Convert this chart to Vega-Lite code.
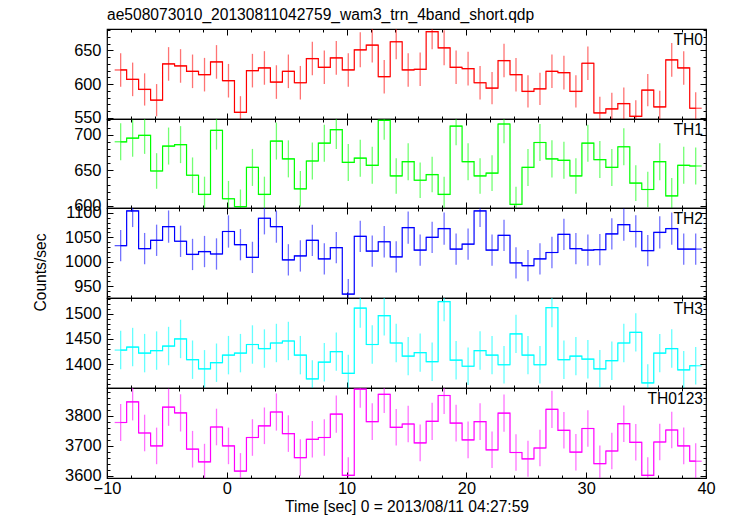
{
"$schema": "https://vega.github.io/schema/vega-lite/v6.json",
"padding": {"left": 32, "top": 7, "right": 5, "bottom": 5},
"spacing": 0,
"bounds": "flush",
"config": {
 "font": "Liberation Sans",
 "view": {"stroke": "black", "strokeWidth": 1.2},
 "axis": {"domain": false, "grid": false, "tickColor": "black", "tickWidth": 1, "labelColor": "black", "labelFont": "Liberation Sans", "labelFontSize": 16.4, "titleFont": "Liberation Sans", "titleFontSize": 15.6, "titleFontWeight": "normal", "titleColor": "black", "labelOverlap": false, "labelFlush": false, "labelBound": false, "format": "d"}
},
"datasets": {
 "th0": [
  {"t":-8.86,"v":621,"lo":596,"hi":646},{"t":-7.86,"v":607,"lo":582,"hi":632},{"t":-6.86,"v":592,"lo":568,"hi":616},{"t":-5.86,"v":576,"lo":552,"hi":600},{"t":-4.86,"v":630,"lo":605,"hi":655},{"t":-3.86,"v":627,"lo":602,"hi":652},{"t":-2.86,"v":619,"lo":594,"hi":644},{"t":-1.86,"v":614,"lo":589,"hi":639},{"t":-0.86,"v":633,"lo":608,"hi":658},{"t":0.14,"v":605,"lo":580,"hi":630},
  {"t":1.14,"v":558,"lo":534,"hi":582},{"t":2.14,"v":620,"lo":595,"hi":645},{"t":3.14,"v":624,"lo":599,"hi":649},{"t":4.14,"v":603,"lo":578,"hi":628},{"t":5.14,"v":619,"lo":594,"hi":644},{"t":6.14,"v":602,"lo":577,"hi":627},{"t":7.14,"v":638,"lo":613,"hi":663},{"t":8.14,"v":625,"lo":600,"hi":650},{"t":9.14,"v":639,"lo":614,"hi":664},{"t":10.14,"v":621,"lo":596,"hi":646},
  {"t":11.14,"v":651,"lo":625,"hi":677},{"t":12.14,"v":658,"lo":632,"hi":684},{"t":13.14,"v":611,"lo":586,"hi":636},{"t":14.14,"v":663,"lo":637,"hi":689},{"t":15.14,"v":621,"lo":596,"hi":646},{"t":16.14,"v":622,"lo":597,"hi":647},{"t":17.14,"v":678,"lo":652,"hi":704},{"t":18.14,"v":654,"lo":628,"hi":680},{"t":19.14,"v":625,"lo":600,"hi":650},{"t":20.14,"v":623,"lo":598,"hi":648},
  {"t":21.14,"v":602,"lo":577,"hi":627},{"t":22.14,"v":594,"lo":570,"hi":618},{"t":23.14,"v":635,"lo":610,"hi":660},{"t":24.14,"v":614,"lo":589,"hi":639},{"t":25.14,"v":589,"lo":565,"hi":613},{"t":26.14,"v":593,"lo":569,"hi":617},{"t":27.14,"v":619,"lo":594,"hi":644},{"t":28.14,"v":617,"lo":592,"hi":642},{"t":29.14,"v":589,"lo":565,"hi":613},{"t":30.14,"v":631,"lo":606,"hi":656},
  {"t":31.14,"v":557,"lo":533,"hi":581},{"t":32.14,"v":563,"lo":539,"hi":587},{"t":33.14,"v":571,"lo":547,"hi":595},{"t":34.14,"v":552,"lo":528,"hi":576},{"t":35.14,"v":591,"lo":567,"hi":615},{"t":36.14,"v":566,"lo":542,"hi":590},{"t":37.14,"v":636,"lo":611,"hi":661},{"t":38.14,"v":624,"lo":599,"hi":649},{"t":39.14,"v":564,"lo":540,"hi":588}
 ],
 "th1": [
  {"t":-8.86,"v":690,"lo":664,"hi":716},{"t":-7.86,"v":695,"lo":669,"hi":721},{"t":-6.86,"v":699,"lo":673,"hi":725},{"t":-5.86,"v":649,"lo":624,"hi":674},{"t":-4.86,"v":684,"lo":658,"hi":710},{"t":-3.86,"v":686,"lo":660,"hi":712},{"t":-2.86,"v":643,"lo":618,"hi":668},{"t":-1.86,"v":616,"lo":591,"hi":641},{"t":-0.86,"v":706,"lo":679,"hi":733},{"t":0.14,"v":610,"lo":585,"hi":635},
  {"t":1.14,"v":599,"lo":575,"hi":623},{"t":2.14,"v":654,"lo":628,"hi":680},{"t":3.14,"v":616,"lo":591,"hi":641},{"t":4.14,"v":691,"lo":665,"hi":717},{"t":5.14,"v":666,"lo":640,"hi":692},{"t":6.14,"v":624,"lo":599,"hi":649},{"t":7.14,"v":663,"lo":637,"hi":689},{"t":8.14,"v":688,"lo":662,"hi":714},{"t":9.14,"v":707,"lo":680,"hi":734},{"t":10.14,"v":661,"lo":635,"hi":687},
  {"t":11.14,"v":667,"lo":641,"hi":693},{"t":12.14,"v":657,"lo":631,"hi":683},{"t":13.14,"v":720,"lo":693,"hi":747},{"t":14.14,"v":642,"lo":617,"hi":667},{"t":15.14,"v":662,"lo":636,"hi":688},{"t":16.14,"v":636,"lo":611,"hi":661},{"t":17.14,"v":644,"lo":619,"hi":669},{"t":18.14,"v":616,"lo":591,"hi":641},{"t":19.14,"v":712,"lo":685,"hi":739},{"t":20.14,"v":662,"lo":636,"hi":688},
  {"t":21.14,"v":642,"lo":617,"hi":667},{"t":22.14,"v":646,"lo":621,"hi":671},{"t":23.14,"v":715,"lo":688,"hi":742},{"t":24.14,"v":602,"lo":578,"hi":627},{"t":25.14,"v":654,"lo":628,"hi":680},{"t":26.14,"v":689,"lo":663,"hi":715},{"t":27.14,"v":666,"lo":640,"hi":692},{"t":28.14,"v":664,"lo":638,"hi":690},{"t":29.14,"v":642,"lo":617,"hi":667},{"t":30.14,"v":688,"lo":662,"hi":714},
  {"t":31.14,"v":665,"lo":639,"hi":691},{"t":32.14,"v":654,"lo":628,"hi":680},{"t":33.14,"v":683,"lo":657,"hi":709},{"t":34.14,"v":632,"lo":607,"hi":657},{"t":35.14,"v":623,"lo":598,"hi":648},{"t":36.14,"v":662,"lo":636,"hi":688},{"t":37.14,"v":614,"lo":589,"hi":639},{"t":38.14,"v":657,"lo":631,"hi":683},{"t":39.14,"v":656,"lo":630,"hi":682}
 ],
 "th2": [
  {"t":-8.86,"v":1033,"lo":1001,"hi":1065},{"t":-7.86,"v":1104,"lo":1071,"hi":1137},{"t":-6.86,"v":1027,"lo":995,"hi":1059},{"t":-5.86,"v":1044,"lo":1012,"hi":1076},{"t":-4.86,"v":1072,"lo":1039,"hi":1105},{"t":-3.86,"v":1042,"lo":1010,"hi":1074},{"t":-2.86,"v":1015,"lo":983,"hi":1047},{"t":-1.86,"v":1021,"lo":989,"hi":1053},{"t":-0.86,"v":1016,"lo":984,"hi":1048},{"t":0.14,"v":1062,"lo":1029,"hi":1095},
  {"t":1.14,"v":1035,"lo":1003,"hi":1067},{"t":2.14,"v":1009,"lo":977,"hi":1041},{"t":3.14,"v":1089,"lo":1056,"hi":1122},{"t":4.14,"v":1072,"lo":1039,"hi":1105},{"t":5.14,"v":1004,"lo":972,"hi":1036},{"t":6.14,"v":1012,"lo":980,"hi":1044},{"t":7.14,"v":1044,"lo":1012,"hi":1076},{"t":8.14,"v":1006,"lo":974,"hi":1038},{"t":9.14,"v":1029,"lo":997,"hi":1061},{"t":10.14,"v":934,"lo":903,"hi":965},
  {"t":11.14,"v":1052,"lo":1020,"hi":1084},{"t":12.14,"v":1022,"lo":990,"hi":1054},{"t":13.14,"v":1041,"lo":1009,"hi":1073},{"t":14.14,"v":1010,"lo":978,"hi":1042},{"t":15.14,"v":1070,"lo":1037,"hi":1103},{"t":16.14,"v":1024,"lo":992,"hi":1056},{"t":17.14,"v":1050,"lo":1018,"hi":1082},{"t":18.14,"v":1068,"lo":1035,"hi":1101},{"t":19.14,"v":1026,"lo":994,"hi":1058},{"t":20.14,"v":1036,"lo":1004,"hi":1068},
  {"t":21.14,"v":1104,"lo":1071,"hi":1137},{"t":22.14,"v":1024,"lo":992,"hi":1056},{"t":23.14,"v":1054,"lo":1022,"hi":1086},{"t":24.14,"v":998,"lo":966,"hi":1030},{"t":25.14,"v":992,"lo":960,"hi":1024},{"t":26.14,"v":1006,"lo":974,"hi":1038},{"t":27.14,"v":1019,"lo":987,"hi":1051},{"t":28.14,"v":1056,"lo":1024,"hi":1088},{"t":29.14,"v":1027,"lo":995,"hi":1059},{"t":30.14,"v":1024,"lo":992,"hi":1056},
  {"t":31.14,"v":1025,"lo":993,"hi":1057},{"t":32.14,"v":1057,"lo":1025,"hi":1089},{"t":33.14,"v":1076,"lo":1043,"hi":1109},{"t":34.14,"v":1062,"lo":1029,"hi":1095},{"t":35.14,"v":1023,"lo":991,"hi":1055},{"t":36.14,"v":1060,"lo":1027,"hi":1093},{"t":37.14,"v":1068,"lo":1035,"hi":1101},{"t":38.14,"v":1026,"lo":994,"hi":1058},{"t":39.14,"v":1026,"lo":994,"hi":1058}
 ],
 "th3": [
  {"t":-8.86,"v":1428,"lo":1390,"hi":1466},{"t":-7.86,"v":1434,"lo":1396,"hi":1472},{"t":-6.86,"v":1422,"lo":1384,"hi":1460},{"t":-5.86,"v":1427,"lo":1389,"hi":1465},{"t":-4.86,"v":1436,"lo":1398,"hi":1474},{"t":-3.86,"v":1450,"lo":1412,"hi":1488},{"t":-2.86,"v":1409,"lo":1371,"hi":1447},{"t":-1.86,"v":1391,"lo":1354,"hi":1428},{"t":-0.86,"v":1403,"lo":1365,"hi":1441},{"t":0.14,"v":1418,"lo":1380,"hi":1456},
  {"t":1.14,"v":1422,"lo":1384,"hi":1460},{"t":2.14,"v":1439,"lo":1401,"hi":1477},{"t":3.14,"v":1431,"lo":1393,"hi":1469},{"t":4.14,"v":1442,"lo":1404,"hi":1480},{"t":5.14,"v":1446,"lo":1408,"hi":1484},{"t":6.14,"v":1418,"lo":1380,"hi":1456},{"t":7.14,"v":1371,"lo":1334,"hi":1408},{"t":8.14,"v":1404,"lo":1366,"hi":1442},{"t":9.14,"v":1425,"lo":1387,"hi":1463},{"t":10.14,"v":1382,"lo":1345,"hi":1419},
  {"t":11.14,"v":1511,"lo":1472,"hi":1550},{"t":12.14,"v":1439,"lo":1401,"hi":1477},{"t":13.14,"v":1496,"lo":1457,"hi":1535},{"t":14.14,"v":1442,"lo":1404,"hi":1480},{"t":15.14,"v":1416,"lo":1378,"hi":1454},{"t":16.14,"v":1423,"lo":1385,"hi":1461},{"t":17.14,"v":1405,"lo":1367,"hi":1443},{"t":18.14,"v":1524,"lo":1485,"hi":1563},{"t":19.14,"v":1408,"lo":1370,"hi":1446},{"t":20.14,"v":1396,"lo":1359,"hi":1433},
  {"t":21.14,"v":1427,"lo":1389,"hi":1465},{"t":22.14,"v":1418,"lo":1380,"hi":1456},{"t":23.14,"v":1399,"lo":1362,"hi":1436},{"t":24.14,"v":1460,"lo":1422,"hi":1498},{"t":25.14,"v":1418,"lo":1380,"hi":1456},{"t":26.14,"v":1399,"lo":1362,"hi":1436},{"t":27.14,"v":1512,"lo":1473,"hi":1551},{"t":28.14,"v":1409,"lo":1371,"hi":1447},{"t":29.14,"v":1416,"lo":1378,"hi":1454},{"t":30.14,"v":1410,"lo":1372,"hi":1448},
  {"t":31.14,"v":1391,"lo":1354,"hi":1428},{"t":32.14,"v":1407,"lo":1369,"hi":1445},{"t":33.14,"v":1442,"lo":1404,"hi":1480},{"t":34.14,"v":1463,"lo":1425,"hi":1501},{"t":35.14,"v":1363,"lo":1326,"hi":1400},{"t":36.14,"v":1422,"lo":1384,"hi":1460},{"t":37.14,"v":1431,"lo":1393,"hi":1469},{"t":38.14,"v":1389,"lo":1352,"hi":1426},{"t":39.14,"v":1397,"lo":1360,"hi":1434}
 ],
 "th0123": [
  {"t":-8.86,"v":3778,"lo":3716,"hi":3840},{"t":-7.86,"v":3847,"lo":3785,"hi":3909},{"t":-6.86,"v":3743,"lo":3682,"hi":3804},{"t":-5.86,"v":3700,"lo":3639,"hi":3761},{"t":-4.86,"v":3829,"lo":3767,"hi":3891},{"t":-3.86,"v":3810,"lo":3748,"hi":3872},{"t":-2.86,"v":3689,"lo":3628,"hi":3750},{"t":-1.86,"v":3647,"lo":3587,"hi":3707},{"t":-0.86,"v":3763,"lo":3702,"hi":3824},{"t":0.14,"v":3700,"lo":3639,"hi":3761},
  {"t":1.14,"v":3616,"lo":3556,"hi":3676},{"t":2.14,"v":3728,"lo":3667,"hi":3789},{"t":3.14,"v":3767,"lo":3706,"hi":3828},{"t":4.14,"v":3813,"lo":3751,"hi":3875},{"t":5.14,"v":3741,"lo":3680,"hi":3802},{"t":6.14,"v":3661,"lo":3600,"hi":3722},{"t":7.14,"v":3722,"lo":3661,"hi":3783},{"t":8.14,"v":3728,"lo":3667,"hi":3789},{"t":9.14,"v":3806,"lo":3744,"hi":3868},{"t":10.14,"v":3602,"lo":3542,"hi":3662},
  {"t":11.14,"v":3889,"lo":3827,"hi":3951},{"t":12.14,"v":3781,"lo":3720,"hi":3842},{"t":13.14,"v":3872,"lo":3810,"hi":3934},{"t":14.14,"v":3762,"lo":3701,"hi":3823},{"t":15.14,"v":3773,"lo":3712,"hi":3834},{"t":16.14,"v":3710,"lo":3649,"hi":3771},{"t":17.14,"v":3782,"lo":3720,"hi":3844},{"t":18.14,"v":3868,"lo":3806,"hi":3930},{"t":19.14,"v":3776,"lo":3715,"hi":3837},{"t":20.14,"v":3720,"lo":3659,"hi":3781},
  {"t":21.14,"v":3781,"lo":3720,"hi":3842},{"t":22.14,"v":3687,"lo":3626,"hi":3748},{"t":23.14,"v":3809,"lo":3747,"hi":3871},{"t":24.14,"v":3678,"lo":3617,"hi":3739},{"t":25.14,"v":3657,"lo":3597,"hi":3717},{"t":26.14,"v":3693,"lo":3632,"hi":3754},{"t":27.14,"v":3822,"lo":3760,"hi":3884},{"t":28.14,"v":3752,"lo":3691,"hi":3813},{"t":29.14,"v":3679,"lo":3618,"hi":3740},{"t":30.14,"v":3758,"lo":3697,"hi":3819},
  {"t":31.14,"v":3641,"lo":3581,"hi":3701},{"t":32.14,"v":3683,"lo":3622,"hi":3744},{"t":33.14,"v":3774,"lo":3713,"hi":3835},{"t":34.14,"v":3712,"lo":3651,"hi":3773},{"t":35.14,"v":3602,"lo":3542,"hi":3662},{"t":36.14,"v":3713,"lo":3652,"hi":3774},{"t":37.14,"v":3753,"lo":3692,"hi":3814},{"t":38.14,"v":3700,"lo":3639,"hi":3761},{"t":39.14,"v":3649,"lo":3589,"hi":3709}
 ]
},
"vconcat": [
 {
  "width": 599, "height": 90,
  "title": {"text": "ae508073010_20130811042759_wam3_trn_4band_short.qdp", "anchor": "start", "frame": "group", "fontSize": 15.6, "font": "Liberation Sans", "fontWeight": "normal", "color": "black", "offset": 5},
  "data": {"name": "th0"},
  "layer": [
   {"mark": {"type": "rule", "color": "#ff0000", "strokeWidth": 1.3, "opacity": 0.55, "clip": true},
    "encoding": {
     "x": {"field": "t", "type": "quantitative", "scale": {"domain": [-10, 40], "nice": false, "zero": false}, "axis": {"orient": "bottom", "values": [-8,-6,-4,-2,2,4,6,8,12,14,16,18,22,24,26,28,32,34,36,38], "tickSize": -3, "labels": false, "title": null}},
     "y": {"field": "lo", "type": "quantitative", "scale": {"domain": [548, 682], "nice": false, "zero": false}, "axis": {"orient": "left", "values": [560,570,580,590,610,620,630,640,660,670,680], "tickSize": -3, "labels": false, "title": null}},
     "y2": {"field": "hi"}}},
   {"mark": {"type": "line", "interpolate": "step", "color": "#ff0000", "strokeWidth": 1.2, "clip": true},
    "encoding": {
     "x": {"field": "t", "type": "quantitative", "scale": {"domain": [-10, 40], "nice": false, "zero": false}, "axis": {"orient": "bottom", "values": [-10,0,10,20,30,40], "tickSize": -6, "labels": false, "title": null}},
     "y": {"field": "v", "type": "quantitative", "scale": {"domain": [548, 682], "nice": false, "zero": false}, "axis": {"orient": "left", "values": [550,600,650], "tickSize": -6, "labelPadding": 12, "title": null, "minExtent": 40, "maxExtent": 40}}}},
   {"mark": {"type": "tick", "orient": "horizontal", "size": 12, "thickness": 1.2, "color": "#ff0000", "clip": true},
    "encoding": {
     "x": {"field": "t", "type": "quantitative", "scale": {"domain": [-10, 40], "nice": false, "zero": false}, "axis": {"orient": "top", "values": [-10,0,10,20,30,40], "tickSize": -6, "labels": false, "title": null}},
     "y": {"field": "v", "type": "quantitative", "scale": {"domain": [548, 682], "nice": false, "zero": false}, "axis": {"orient": "right", "values": [550,600,650], "tickSize": -6, "labels": false, "title": null}}}},
   {"data": {"values": [{"label": "TH0"}]},
    "mark": {"type": "text", "align": "right", "baseline": "alphabetic", "dx": -3, "dy": 16, "fontSize": 15.6, "font": "Liberation Sans", "color": "black"},
    "encoding": {
     "text": {"field": "label"},
     "x": {"datum": 40, "type": "quantitative", "scale": {"domain": [-10, 40], "nice": false, "zero": false}, "axis": {"orient": "top", "values": [-8,-6,-4,-2,2,4,6,8,12,14,16,18,22,24,26,28,32,34,36,38], "tickSize": -3, "labels": false, "title": null}},
     "y": {"datum": 682, "type": "quantitative", "scale": {"domain": [548, 682], "nice": false, "zero": false}, "axis": {"orient": "right", "values": [560,570,580,590,610,620,630,640,660,670,680], "tickSize": -3, "labels": false, "title": null}}}}
  ],
  "resolve": {"axis": {"x": "independent", "y": "independent"}}
 },
 {
  "width": 599, "height": 89,
  "data": {"name": "th1"},
  "layer": [
   {"mark": {"type": "rule", "color": "#00ff00", "strokeWidth": 1.3, "opacity": 0.55, "clip": true},
    "encoding": {
     "x": {"field": "t", "type": "quantitative", "scale": {"domain": [-10, 40], "nice": false, "zero": false}, "axis": {"orient": "bottom", "values": [-8,-6,-4,-2,2,4,6,8,12,14,16,18,22,24,26,28,32,34,36,38], "tickSize": -3, "labels": false, "title": null}},
     "y": {"field": "lo", "type": "quantitative", "scale": {"domain": [597, 722], "nice": false, "zero": false}, "axis": {"orient": "left", "values": [610,620,630,640,660,670,680,690,710,720], "tickSize": -3, "labels": false, "title": null}},
     "y2": {"field": "hi"}}},
   {"mark": {"type": "line", "interpolate": "step", "color": "#00ff00", "strokeWidth": 1.2, "clip": true},
    "encoding": {
     "x": {"field": "t", "type": "quantitative", "scale": {"domain": [-10, 40], "nice": false, "zero": false}, "axis": {"orient": "bottom", "values": [-10,0,10,20,30,40], "tickSize": -6, "labels": false, "title": null}},
     "y": {"field": "v", "type": "quantitative", "scale": {"domain": [597, 722], "nice": false, "zero": false}, "axis": {"orient": "left", "values": [600,650,700], "tickSize": -6, "labelPadding": 12, "title": null, "minExtent": 40, "maxExtent": 40}}}},
   {"mark": {"type": "tick", "orient": "horizontal", "size": 12, "thickness": 1.2, "color": "#00ff00", "clip": true},
    "encoding": {
     "x": {"field": "t", "type": "quantitative", "scale": {"domain": [-10, 40], "nice": false, "zero": false}, "axis": {"orient": "top", "values": [-10,0,10,20,30,40], "tickSize": -6, "labels": false, "title": null}},
     "y": {"field": "v", "type": "quantitative", "scale": {"domain": [597, 722], "nice": false, "zero": false}, "axis": {"orient": "right", "values": [600,650,700], "tickSize": -6, "labels": false, "title": null}}}},
   {"data": {"values": [{"label": "TH1"}]},
    "mark": {"type": "text", "align": "right", "baseline": "alphabetic", "dx": -3, "dy": 16, "fontSize": 15.6, "font": "Liberation Sans", "color": "black"},
    "encoding": {
     "text": {"field": "label"},
     "x": {"datum": 40, "type": "quantitative", "scale": {"domain": [-10, 40], "nice": false, "zero": false}, "axis": {"orient": "top", "values": [-8,-6,-4,-2,2,4,6,8,12,14,16,18,22,24,26,28,32,34,36,38], "tickSize": -3, "labels": false, "title": null}},
     "y": {"datum": 722, "type": "quantitative", "scale": {"domain": [597, 722], "nice": false, "zero": false}, "axis": {"orient": "right", "values": [610,620,630,640,660,670,680,690,710,720], "tickSize": -3, "labels": false, "title": null}}}}
  ],
  "resolve": {"axis": {"x": "independent", "y": "independent"}}
 },
 {
  "width": 599, "height": 90,
  "data": {"name": "th2"},
  "layer": [
   {"mark": {"type": "rule", "color": "#0000ff", "strokeWidth": 1.3, "opacity": 0.55, "clip": true},
    "encoding": {
     "x": {"field": "t", "type": "quantitative", "scale": {"domain": [-10, 40], "nice": false, "zero": false}, "axis": {"orient": "bottom", "values": [-8,-6,-4,-2,2,4,6,8,12,14,16,18,22,24,26,28,32,34,36,38], "tickSize": -3, "labels": false, "title": null}},
     "y": {"field": "lo", "type": "quantitative", "scale": {"domain": [926, 1110], "nice": false, "zero": false}, "axis": {"orient": "left", "values": [930,940,960,970,980,990,1010,1020,1030,1040,1060,1070,1080,1090], "tickSize": -3, "labels": false, "title": null}},
     "y2": {"field": "hi"}}},
   {"mark": {"type": "line", "interpolate": "step", "color": "#0000ff", "strokeWidth": 1.2, "clip": true},
    "encoding": {
     "x": {"field": "t", "type": "quantitative", "scale": {"domain": [-10, 40], "nice": false, "zero": false}, "axis": {"orient": "bottom", "values": [-10,0,10,20,30,40], "tickSize": -6, "labels": false, "title": null}},
     "y": {"field": "v", "type": "quantitative", "scale": {"domain": [926, 1110], "nice": false, "zero": false}, "axis": {"orient": "left", "values": [950,1000,1050,1100], "tickSize": -6, "labelPadding": 12, "title": "Counts/sec", "titleX": -67, "titleY": 64, "titleAngle": -90, "titleBaseline": "middle", "titleAlign": "center", "minExtent": 40, "maxExtent": 40}}}},
   {"mark": {"type": "tick", "orient": "horizontal", "size": 12, "thickness": 1.2, "color": "#0000ff", "clip": true},
    "encoding": {
     "x": {"field": "t", "type": "quantitative", "scale": {"domain": [-10, 40], "nice": false, "zero": false}, "axis": {"orient": "top", "values": [-10,0,10,20,30,40], "tickSize": -6, "labels": false, "title": null}},
     "y": {"field": "v", "type": "quantitative", "scale": {"domain": [926, 1110], "nice": false, "zero": false}, "axis": {"orient": "right", "values": [950,1000,1050,1100], "tickSize": -6, "labels": false, "title": null}}}},
   {"data": {"values": [{"label": "TH2"}]},
    "mark": {"type": "text", "align": "right", "baseline": "alphabetic", "dx": -3, "dy": 16, "fontSize": 15.6, "font": "Liberation Sans", "color": "black"},
    "encoding": {
     "text": {"field": "label"},
     "x": {"datum": 40, "type": "quantitative", "scale": {"domain": [-10, 40], "nice": false, "zero": false}, "axis": {"orient": "top", "values": [-8,-6,-4,-2,2,4,6,8,12,14,16,18,22,24,26,28,32,34,36,38], "tickSize": -3, "labels": false, "title": null}},
     "y": {"datum": 1110, "type": "quantitative", "scale": {"domain": [926, 1110], "nice": false, "zero": false}, "axis": {"orient": "right", "values": [930,940,960,970,980,990,1010,1020,1030,1040,1060,1070,1080,1090], "tickSize": -3, "labels": false, "title": null}}}}
  ],
  "resolve": {"axis": {"x": "independent", "y": "independent"}}
 },
 {
  "width": 599, "height": 90,
  "data": {"name": "th3"},
  "layer": [
   {"mark": {"type": "rule", "color": "#00ffff", "strokeWidth": 1.3, "opacity": 0.6, "clip": true},
    "encoding": {
     "x": {"field": "t", "type": "quantitative", "scale": {"domain": [-10, 40], "nice": false, "zero": false}, "axis": {"orient": "bottom", "values": [-8,-6,-4,-2,2,4,6,8,12,14,16,18,22,24,26,28,32,34,36,38], "tickSize": -3, "labels": false, "title": null}},
     "y": {"field": "lo", "type": "quantitative", "scale": {"domain": [1353, 1531], "nice": false, "zero": false}, "axis": {"orient": "left", "values": [1360,1370,1380,1390,1410,1420,1430,1440,1460,1470,1480,1490,1510,1520,1530], "tickSize": -3, "labels": false, "title": null}},
     "y2": {"field": "hi"}}},
   {"mark": {"type": "line", "interpolate": "step", "color": "#00ffff", "strokeWidth": 1.2, "clip": true},
    "encoding": {
     "x": {"field": "t", "type": "quantitative", "scale": {"domain": [-10, 40], "nice": false, "zero": false}, "axis": {"orient": "bottom", "values": [-10,0,10,20,30,40], "tickSize": -6, "labels": false, "title": null}},
     "y": {"field": "v", "type": "quantitative", "scale": {"domain": [1353, 1531], "nice": false, "zero": false}, "axis": {"orient": "left", "values": [1400,1450,1500], "tickSize": -6, "labelPadding": 12, "title": null, "minExtent": 40, "maxExtent": 40}}}},
   {"mark": {"type": "tick", "orient": "horizontal", "size": 12, "thickness": 1.2, "color": "#00ffff", "clip": true},
    "encoding": {
     "x": {"field": "t", "type": "quantitative", "scale": {"domain": [-10, 40], "nice": false, "zero": false}, "axis": {"orient": "top", "values": [-10,0,10,20,30,40], "tickSize": -6, "labels": false, "title": null}},
     "y": {"field": "v", "type": "quantitative", "scale": {"domain": [1353, 1531], "nice": false, "zero": false}, "axis": {"orient": "right", "values": [1400,1450,1500], "tickSize": -6, "labels": false, "title": null}}}},
   {"data": {"values": [{"label": "TH3"}]},
    "mark": {"type": "text", "align": "right", "baseline": "alphabetic", "dx": -3, "dy": 16, "fontSize": 15.6, "font": "Liberation Sans", "color": "black"},
    "encoding": {
     "text": {"field": "label"},
     "x": {"datum": 40, "type": "quantitative", "scale": {"domain": [-10, 40], "nice": false, "zero": false}, "axis": {"orient": "top", "values": [-8,-6,-4,-2,2,4,6,8,12,14,16,18,22,24,26,28,32,34,36,38], "tickSize": -3, "labels": false, "title": null}},
     "y": {"datum": 1531, "type": "quantitative", "scale": {"domain": [1353, 1531], "nice": false, "zero": false}, "axis": {"orient": "right", "values": [1360,1370,1380,1390,1410,1420,1430,1440,1460,1470,1480,1490,1510,1520,1530], "tickSize": -3, "labels": false, "title": null}}}}
  ],
  "resolve": {"axis": {"x": "independent", "y": "independent"}}
 },
 {
  "width": 599, "height": 90,
  "data": {"name": "th0123"},
  "layer": [
   {"mark": {"type": "rule", "color": "#ff00ff", "strokeWidth": 1.3, "opacity": 0.55, "clip": true},
    "encoding": {
     "x": {"field": "t", "type": "quantitative", "scale": {"domain": [-10, 40], "nice": false, "zero": false}, "axis": {"orient": "bottom", "values": [-8,-6,-4,-2,2,4,6,8,12,14,16,18,22,24,26,28,32,34,36,38], "tickSize": -3, "labels": false, "title": null}},
     "y": {"field": "lo", "type": "quantitative", "scale": {"domain": [3593, 3893], "nice": false, "zero": false}, "axis": {"orient": "left", "values": [3620,3640,3660,3680,3720,3740,3760,3780,3820,3840,3860,3880], "tickSize": -3, "labels": false, "title": null}},
     "y2": {"field": "hi"}}},
   {"mark": {"type": "line", "interpolate": "step", "color": "#ff00ff", "strokeWidth": 1.2, "clip": true},
    "encoding": {
     "x": {"field": "t", "type": "quantitative", "scale": {"domain": [-10, 40], "nice": false, "zero": false}, "axis": {"orient": "bottom", "values": [-10,0,10,20,30,40], "tickSize": -6, "labels": true, "labelPadding": 8, "title": "Time [sec] 0 = 2013/08/11 04:27:59", "titlePadding": 3}},
     "y": {"field": "v", "type": "quantitative", "scale": {"domain": [3593, 3893], "nice": false, "zero": false}, "axis": {"orient": "left", "values": [3600,3700,3800], "tickSize": -6, "labelPadding": 12, "title": null, "minExtent": 40, "maxExtent": 40}}}},
   {"mark": {"type": "tick", "orient": "horizontal", "size": 12, "thickness": 1.2, "color": "#ff00ff", "clip": true},
    "encoding": {
     "x": {"field": "t", "type": "quantitative", "scale": {"domain": [-10, 40], "nice": false, "zero": false}, "axis": {"orient": "top", "values": [-10,0,10,20,30,40], "tickSize": -6, "labels": false, "title": null}},
     "y": {"field": "v", "type": "quantitative", "scale": {"domain": [3593, 3893], "nice": false, "zero": false}, "axis": {"orient": "right", "values": [3600,3700,3800], "tickSize": -6, "labels": false, "title": null}}}},
   {"data": {"values": [{"label": "TH0123"}]},
    "mark": {"type": "text", "align": "right", "baseline": "alphabetic", "dx": -3, "dy": 16, "fontSize": 15.6, "font": "Liberation Sans", "color": "black"},
    "encoding": {
     "text": {"field": "label"},
     "x": {"datum": 40, "type": "quantitative", "scale": {"domain": [-10, 40], "nice": false, "zero": false}, "axis": {"orient": "top", "values": [-8,-6,-4,-2,2,4,6,8,12,14,16,18,22,24,26,28,32,34,36,38], "tickSize": -3, "labels": false, "title": null}},
     "y": {"datum": 3893, "type": "quantitative", "scale": {"domain": [3593, 3893], "nice": false, "zero": false}, "axis": {"orient": "right", "values": [3620,3640,3660,3680,3720,3740,3760,3780,3820,3840,3860,3880], "tickSize": -3, "labels": false, "title": null}}}}
  ],
  "resolve": {"axis": {"x": "independent", "y": "independent"}}
 }
]
}
